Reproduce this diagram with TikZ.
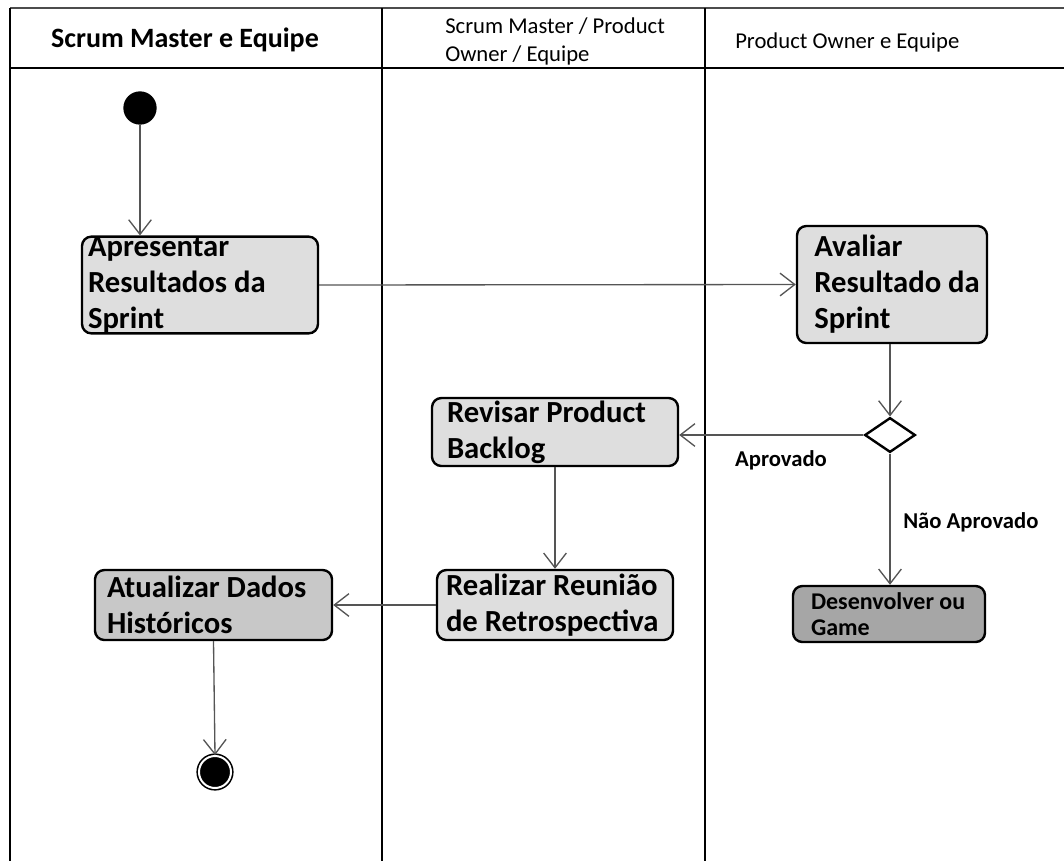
\documentclass[tikz,border=0pt]{standalone}
\usepackage{fontspec}
\setmainfont{Carlito}
\usetikzlibrary{arrows.meta,shapes.geometric}
\definecolor{actfill}{HTML}{DEDEDE}
\definecolor{midfill}{HTML}{C8C8C8}
\definecolor{darkfill}{HTML}{A6A6A6}
\definecolor{flowgray}{HTML}{555555}

\begin{document}
\begin{tikzpicture}[x=0.75pt,y=-0.75pt,
  lane/.style={line width=2.2pt},
  head/.style={font=\fontsize{17}{21}\selectfont,align=left,inner sep=0pt},
  act/.style={draw,rounded corners=7pt,line width=1.8pt,fill=actfill,align=flush left,inner ysep=0pt,font=\fontsize{23}{27}\selectfont\bfseries},
  flow/.style={draw=flowgray,line width=1pt,-{Straight Barb[length=11pt,width=17pt]}},
  lbl/.style={font=\fontsize{17}{20}\selectfont\bfseries,inner sep=0pt},
  start/.style={circle,fill=black,minimum size=25pt,inner sep=0pt},
  finish/.style={circle,draw,fill=black,double,double distance=1.5pt,line width=1.2pt,minimum size=24pt,inner sep=0pt},
  choice/.style={diamond,draw,line width=1.8pt,fill=white,minimum width=38pt,minimum height=26pt,inner sep=0pt}]
\useasboundingbox (0,0) rectangle (1064,861);
% lanes
\draw[lane,black!70] (10,8) -- (1064,8);
\draw[lane] (10,68) -- (1064,68);
\draw[lane] (10,8) -- (10,861);
\draw[lane] (382,8) -- (382,861);
\draw[lane] (705,8) -- (705,861);
\node[head,font=\fontsize{21}{25}\selectfont\bfseries] (h1) at (185,40) {Scrum Master e Equipe};
\node[head,anchor=west] (h2) at (445,41) {Scrum Master / Product\\Owner / Equipe};
\node[head,anchor=west] (h3) at (735,42) {Product Owner e Equipe};
% activities
\node[start] (ini) at (140,108) {};
\node[act,text width=168pt,inner xsep=4.5pt,minimum height=72pt] (apres) at (200,285) {Apresentar\\Resultados da\\Sprint};
\node[act,text width=136.5pt,inner xsep=3pt,minimum height=87.75pt] (aval) at (892,284.5) {\hspace*{10pt}Avaliar\\\hspace*{10pt}Resultado da\\\hspace*{10pt}Sprint};
\node[choice] (dec) at (890,435) {};
\node[act,text width=162pt,inner xsep=11.25pt,minimum height=51pt] (revis) at (555,432) {Revisar Product\\Backlog};
\node[act,text width=129pt,inner xsep=7.5pt,minimum height=42pt,fill=darkfill,font=\fontsize{18}{20}\selectfont\bfseries] (desen) at (889,614) {\hspace*{6pt}Desenvolver ou\\\hspace*{6pt}Game};
\node[act,text width=163.5pt,inner xsep=6.75pt,minimum height=52.5pt] (reun) at (555,605) {Realizar Reunião\\de Retrospectiva};
\node[act,text width=159.75pt,inner xsep=9pt,minimum height=52.5pt,fill=midfill] (atual) at (213.5,605) {Atualizar Dados\\Históricos};
\node[finish] (fim) at (215,772) {};
% flows
\draw[flow] (ini) -- (ini |- apres.north);
\draw[flow] (apres.east) -- (aval.west);
\draw[flow] (aval.south -| dec.north) -- (dec.north);
\draw[flow] (dec.west) -- (dec.west -| revis.east);
\draw[flow] (dec.south) -- (dec.south |- desen.north);
\draw[flow] (revis.south) -- (reun.north);
\draw[flow] (reun.west) -- (atual.east);
\draw[flow] (atual.south) -- (fim.north);
\node[lbl] (ok) at (781,460) {Aprovado};
\node[lbl,anchor=west] (nok) at (903,522) {Não Aprovado};
\end{tikzpicture}
\end{document}
